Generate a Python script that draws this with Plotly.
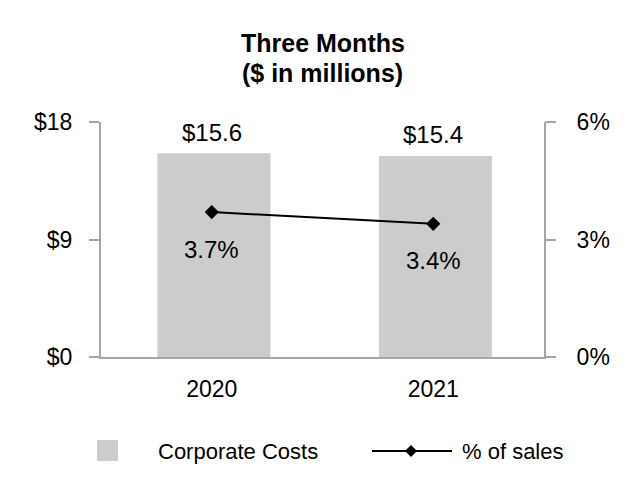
import plotly.graph_objects as go

categories = ["2020", "2021"]
corporate_costs = [15.6, 15.4]
pct_of_sales = [3.7, 3.4]
cost_labels = ["$15.6", "$15.4"]
pct_labels = ["3.7%", "3.4%"]
left_ticks = [0, 9, 18]
left_ticktext = ["$0", "$9", "$18"]
right_ticks = [0, 3, 6]
right_ticktext = ["0%", "3%", "6%"]

FONT = "Liberation Sans, Arial, sans-serif"
AXIS_GRAY = "#a6a6a6"

# page body has an 8px margin; compensate so the picture lands where the reference is
OFF = 8
W, H = 642, 500
ml, mt = 101 - OFF, 122 - OFF
pw, ph = 443, 235
mr = W - ml - pw
mb = H - mt - ph

fig = go.Figure()
fig.add_trace(go.Bar(
    x=categories, y=corporate_costs, name="Corporate Costs",
    marker=dict(color="#cccccc", line=dict(width=0)),
    width=0.51, offset=-0.245, yaxis="y", showlegend=False,
))
fig.add_trace(go.Scatter(
    x=categories, y=pct_of_sales, name="% of sales", mode="lines+markers",
    line=dict(color="black", width=2),
    marker=dict(symbol="diamond", size=11, color="black"),
    yaxis="y2", showlegend=False,
))

for i, (v, t) in enumerate(zip(corporate_costs, cost_labels)):
    fig.add_annotation(x=i, y=v, xref="x", yref="y", text=t, showarrow=False,
                       yanchor="middle", yshift=21,
                       font=dict(family=FONT, size=24, color="black"))
for i, (v, t) in enumerate(zip(pct_of_sales, pct_labels)):
    fig.add_annotation(x=i, y=v, xref="x", yref="y2", text=t, showarrow=False,
                       yanchor="middle", yshift=-37,
                       font=dict(family=FONT, size=24, color="black"))

# Title
fig.add_annotation(xref="paper", yref="paper", x=0.5, y=1, yshift=79,
                   text="<b>Three Months</b>", showarrow=False, yanchor="middle",
                   font=dict(family=FONT, size=25, color="black"))
fig.add_annotation(xref="paper", yref="paper", x=0.5, y=1, yshift=49,
                   text="<b>($ in millions)</b>", showarrow=False, yanchor="middle",
                   font=dict(family=FONT, size=25, color="black"))

# Legend (manual) – coordinates given in reference page pixels
def px(x):
    return (x - OFF - ml) / pw

def py(y):
    return (H - mb - (y - OFF)) / ph

fig.add_shape(type="rect", xref="paper", yref="paper",
              x0=px(97), x1=px(118), y0=py(461), y1=py(440),
              fillcolor="#cccccc", line=dict(width=0))
fig.add_annotation(xref="paper", yref="paper", x=px(156), y=py(451),
                   text="Corporate Costs", showarrow=False,
                   xanchor="left", yanchor="middle",
                   font=dict(family=FONT, size=22, color="black"))
fig.add_shape(type="line", xref="paper", yref="paper",
              x0=px(372), x1=px(452), y0=py(451), y1=py(451),
              line=dict(color="black", width=2))
fig.add_shape(type="path", xref="paper", yref="paper",
              path=f"M {px(405)} {py(451)} L {px(411)} {py(445)} L {px(417)} {py(451)} L {px(411)} {py(457)} Z",
              fillcolor="black", line=dict(width=0))
fig.add_annotation(xref="paper", yref="paper", x=px(460), y=py(451),
                   text="% of sales", showarrow=False,
                   xanchor="left", yanchor="middle",
                   font=dict(family=FONT, size=22, color="black"))

fig.update_layout(
    width=W, height=H,
    margin=dict(l=ml, r=mr, t=mt, b=mb),
    plot_bgcolor="white", paper_bgcolor="white",
    font=dict(family=FONT, size=23, color="black"),
    xaxis=dict(type="category", range=[-0.5, len(categories) - 0.5],
               showline=True, linecolor=AXIS_GRAY, linewidth=2,
               ticks="", showgrid=False, tickfont=dict(size=23),
               ticklabelstandoff=10, automargin=False),
    yaxis=dict(range=[0, 18], tickvals=left_ticks, ticktext=left_ticktext,
               showline=True, linecolor=AXIS_GRAY, linewidth=2,
               ticks="outside", ticklen=10, tickcolor=AXIS_GRAY, tickwidth=2,
               showgrid=False, zeroline=False, tickfont=dict(size=23),
               ticklabelstandoff=12, automargin=False),
    yaxis2=dict(range=[0, 6], tickvals=right_ticks, ticktext=right_ticktext,
                overlaying="y", side="right",
                showline=True, linecolor=AXIS_GRAY, linewidth=2,
                ticks="outside", ticklen=10, tickcolor=AXIS_GRAY, tickwidth=2,
                showgrid=False, zeroline=False, tickfont=dict(size=23),
                ticklabelstandoff=16, automargin=False),
)

fig.write_html("out.html")
